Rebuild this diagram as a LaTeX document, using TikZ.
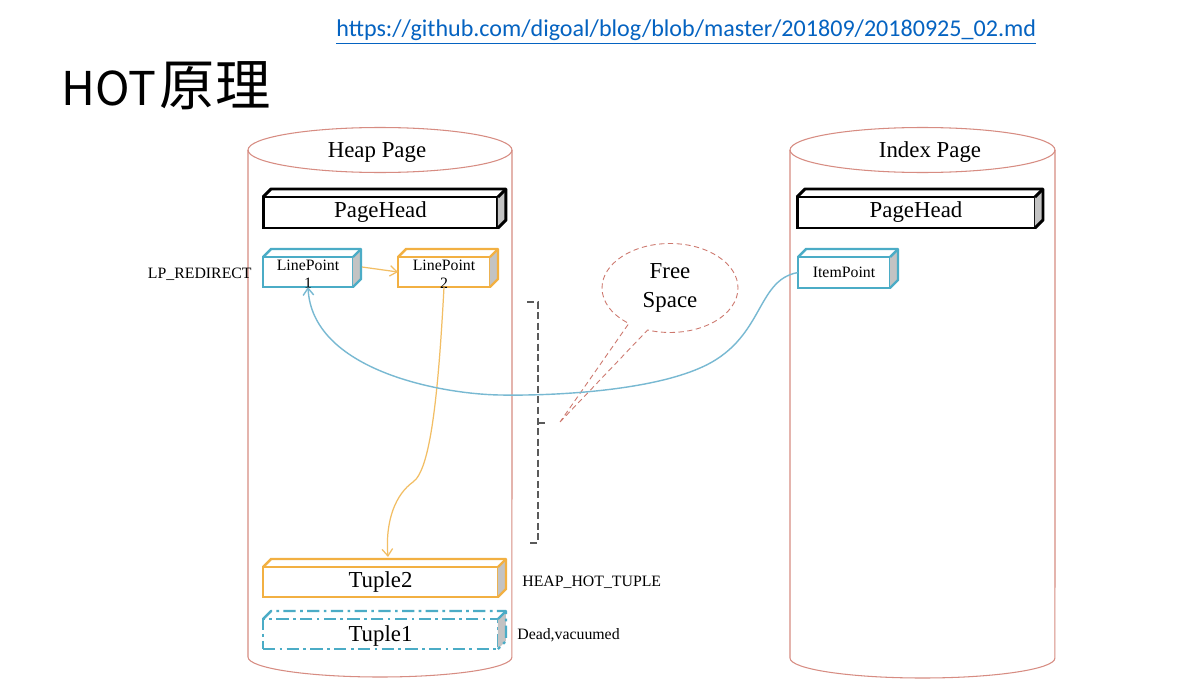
\documentclass[tikz,border=0pt]{standalone}
\usepackage{fontspec}
\setmainfont{Liberation Serif}
\newfontfamily\urlfont{Carlito}
\newfontfamily\cjkfont{Noto Sans CJK SC}
\usetikzlibrary{arrows.meta,shapes.callouts,calc}
\definecolor{cylred}{RGB}{215,140,130}
\definecolor{boxblue}{RGB}{75,172,198}
\definecolor{boxorange}{RGB}{242,176,66}
\definecolor{curveblue}{RGB}{120,185,210}
\definecolor{curveorange}{RGB}{242,190,100}
\definecolor{linkblue}{RGB}{5,99,193}
\definecolor{sidegray}{RGB}{195,195,195}
\definecolor{calloutred}{RGB}{205,120,110}
\definecolor{brackgray}{RGB}{90,90,90}
\newcommand\boxfaces[2]{%
  \fill[sidegray] (#1.north east) -- ++(8,-8) -- ($(#1.south east)+(8,-8)$) -- (#1.south east) -- cycle;
  \draw[line join=round,#2] (#1.north west) -- ++(8,-8) -- ($(#1.north east)+(8,-8)$) -- ($(#1.south east)+(8,-8)$) -- (#1.south east);
  \draw[#2] (#1.north east) -- ++(8,-8);
}
\begin{document}
\begin{tikzpicture}[x=0.02cm,y=-0.02cm,
  cyl/.style={draw=cylred, line width=0.6pt},
  cube/.style={draw, rectangle, outer sep=0pt, inner sep=0pt, fill=white},
  bigtxt/.style={font=\fontsize{13}{15}\selectfont},
  smalltxt/.style={font=\fontsize{9}{10.5}\selectfont},
  blackline/.style={draw=black, line width=1.7pt},
  blueline/.style={draw=boxblue, line width=1.4pt},
  orangeline/.style={draw=boxorange, line width=1.4pt},
  dashblue/.style={draw=boxblue, line width=1.4pt, dash pattern=on 7pt off 2.5pt on 1.5pt off 2.5pt},
  orangearrow/.style={draw=curveorange, line width=0.7pt, -{Straight Barb[length=4pt,width=6pt]}},
  bluearrow/.style={draw=curveblue, line width=0.8pt, -{Straight Barb[length=4pt,width=6pt]}},
  bracket/.style={draw=brackgray, line width=0.6pt, dash pattern=on 4pt off 2pt},
  plain/.style={inner sep=0pt}
]
\useasboundingbox (0,0) rectangle (1182,696);
\fill[white] (0,0) rectangle (1182,696);

% title and link
\node[plain, anchor=base west, text=linkblue, font=\urlfont\fontsize{13.7}{16}\selectfont] (url) at (336,37)
  {\underline{https://github.com/digoal/blog/blob/master/201809/20180925\_02.md}};
\node[plain, anchor=base west, font=\cjkfont\fontsize{26.5}{30}\selectfont] (title) at (61,106) {HOT\hspace{2pt}{\fontsize{31.5}{33}\selectfont 原理}};

% cylinders
\draw[cyl] (380,150) ellipse [x radius=2.64cm, y radius=0.45cm];
\draw[cyl] (248,150) -- (248,657) arc[start angle=180, end angle=360, x radius=2.64cm, y radius=0.4cm] -- (512,150);
\draw[cyl] (922.5,150) ellipse [x radius=2.65cm, y radius=0.45cm];
\draw[cyl] (790,150) -- (790,658) arc[start angle=180, end angle=360, x radius=2.65cm, y radius=0.4cm] -- (1055,150);
\node[bigtxt] (heaplabel) at (377,152) {Heap Page};
\node[bigtxt] (indexlabel) at (930,152) {Index Page};

% heap page boxes
\node[cube, blackline, minimum width=4.70cm, minimum height=0.62cm, bigtxt] (hph) at (380.5,212.5) {PageHead};
\boxfaces{hph}{blackline}
\node[cube, blueline, minimum width=1.80cm, minimum height=0.60cm] (lp1) at (308,272) {};
\boxfaces{lp1}{blueline}
\node[smalltxt, align=center, plain] (lp1t) at (308,274) {LinePoint\\1};
\node[cube, orangeline, minimum width=1.84cm, minimum height=0.60cm] (lp2) at (444,272) {};
\boxfaces{lp2}{orangeline}
\node[smalltxt, align=center, plain] (lp2t) at (444,274) {LinePoint\\2};
\node[cube, orangeline, minimum width=4.70cm, minimum height=0.60cm, bigtxt] (t2) at (380.5,582) {Tuple2};
\boxfaces{t2}{orangeline}
\node[cube, dashblue, minimum width=4.70cm, minimum height=0.60cm] (t1) at (380.5,634) {};
\boxfaces{t1}{dashblue}
\node[bigtxt, plain] (t1t) at (380.5,636) {Tuple1};

% index page boxes
\node[cube, blackline, minimum width=4.76cm, minimum height=0.62cm, bigtxt] (iph) at (916,212.5) {PageHead};
\boxfaces{iph}{blackline}
\node[cube, blueline, minimum width=1.84cm, minimum height=0.62cm, smalltxt] (ip) at (844,272.5) {ItemPoint};
\boxfaces{ip}{blueline}

% side labels
\node[smalltxt, plain, anchor=east] (lpr) at (252,274) {LP\_REDIRECT};
\node[smalltxt, plain, anchor=west] (hht) at (522,582) {HEAP\_HOT\_TUPLE};
\node[smalltxt, plain, anchor=west] (dead) at (517,635) {Dead,vacuumed};

% free space bracket and callout
\draw[bracket] (527,302) -| (538,543) -- (527,543);
\draw[bracket] (538,423) -- (548,423);
\node[ellipse callout, draw=calloutred, densely dashed, line width=0.5pt,
      minimum width=2.72cm, minimum height=1.78cm,
      callout absolute pointer={(560,422)}, callout pointer arc=18,
      bigtxt, align=center] (free) at (670,288) {Free\\[1pt]Space};

% connectors
\draw[orangearrow] ($(lp1.east)+(9,-5)$) -- (lp2.west);
\coordinate (t2in) at (388,557);
\draw[orangearrow] (lp2.south) .. controls (438,400) and (430,470) .. (413,482)
   .. controls (396,494) and (385,520) .. (t2in);
\draw[bluearrow] (ip.west) .. controls (755,280) and (765,340) .. (700,368)
   .. controls (650,390) and (560,396) .. (500,395)
   .. controls (440,394) and (312,370) .. (lp1.south);
\end{tikzpicture}
\end{document}
